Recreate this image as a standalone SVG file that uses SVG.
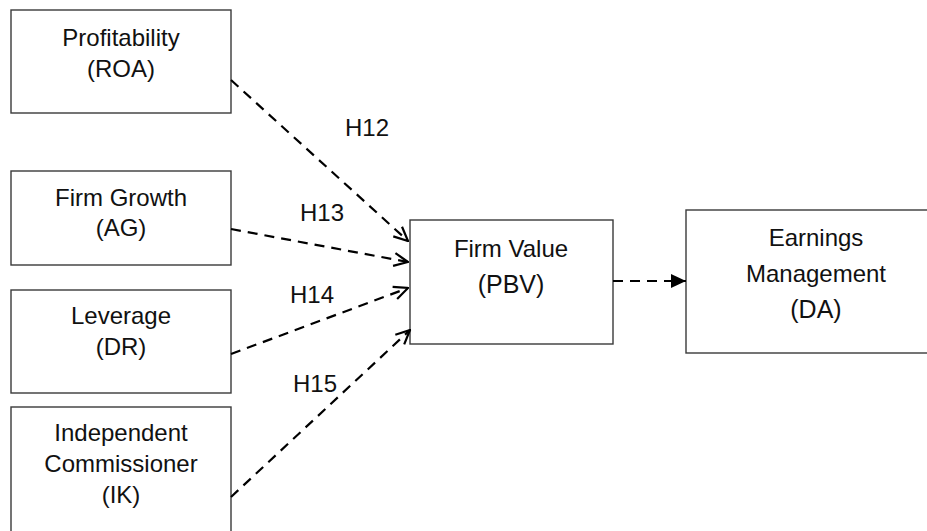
<svg xmlns="http://www.w3.org/2000/svg" width="927" height="531" viewBox="0 0 927 531">
  <style>
    .box { fill: #ffffff; stroke: #3a3a3a; stroke-width: 1.4; }
    .lbl { font-family: "Liberation Sans", Arial, sans-serif; font-size: 24px; fill: #111111; text-anchor: middle; }
    .big { font-size: 25px; }
    .hyp { font-family: "Liberation Sans", Arial, sans-serif; font-size: 24px; fill: #111111; }
    .link { fill: none; stroke: #000000; stroke-width: 2.2; stroke-dasharray: 10 7; }
  </style>
  <defs>
    <marker id="open" markerUnits="userSpaceOnUse" viewBox="0 0 16 16" markerWidth="16" markerHeight="16" refX="15" refY="8" orient="auto">
      <path d="M1,1.5 L15,8 L1,14.5" fill="none" stroke="#000000" stroke-width="2.2" stroke-linejoin="miter"/>
    </marker>
    <marker id="solid" markerUnits="userSpaceOnUse" viewBox="0 0 15 14" markerWidth="15" markerHeight="14" refX="15" refY="7" orient="auto">
      <path d="M0,0 L15,7 L0,14 Z" fill="#000000"/>
    </marker>
  </defs>

  <rect width="927" height="531" fill="#ffffff"/>

  <g id="roa">
    <rect class="box" x="11" y="10" width="220" height="103"/>
    <text class="lbl" x="121" y="46">Profitability</text>
    <text class="lbl" x="121" y="77">(ROA)</text>
  </g>

  <g id="ag">
    <rect class="box" x="11" y="171" width="220" height="94"/>
    <text class="lbl" x="121" y="206">Firm Growth</text>
    <text class="lbl" x="121" y="236">(AG)</text>
  </g>

  <g id="dr">
    <rect class="box" x="11" y="290" width="220" height="103"/>
    <text class="lbl" x="121" y="324">Leverage</text>
    <text class="lbl" x="121" y="355">(DR)</text>
  </g>

  <g id="ik">
    <rect class="box" x="11" y="407" width="220" height="130"/>
    <text class="lbl" x="121" y="441">Independent</text>
    <text class="lbl" x="121" y="472">Commissioner</text>
    <text class="lbl" x="121" y="503">(IK)</text>
  </g>

  <g id="pbv">
    <rect class="box" x="410" y="220" width="203" height="124"/>
    <text class="lbl" x="511" y="257">Firm Value</text>
    <text class="lbl big" x="511" y="293">(PBV)</text>
  </g>

  <g id="da">
    <rect class="box" x="686" y="210" width="262" height="143"/>
    <text class="lbl" x="816" y="246">Earnings</text>
    <text class="lbl" x="816" y="282">Management</text>
    <text class="lbl big" x="816" y="318">(DA)</text>
  </g>

  <g id="connectors">
    <path class="link" d="M231,80 L408,241" marker-end="url(#open)"/>
    <path class="link" d="M231,229 L408,262" marker-end="url(#open)"/>
    <path class="link" d="M231,354 L408,288" marker-end="url(#open)"/>
    <path class="link" d="M231,497 L410,330" marker-end="url(#open)"/>
    <path class="link" d="M613,281 L686,281" marker-end="url(#solid)"/>
    <text class="hyp" x="345" y="136">H12</text>
    <text class="hyp" x="300" y="221">H13</text>
    <text class="hyp" x="290" y="303">H14</text>
    <text class="hyp" x="293" y="392">H15</text>
  </g>
</svg>
